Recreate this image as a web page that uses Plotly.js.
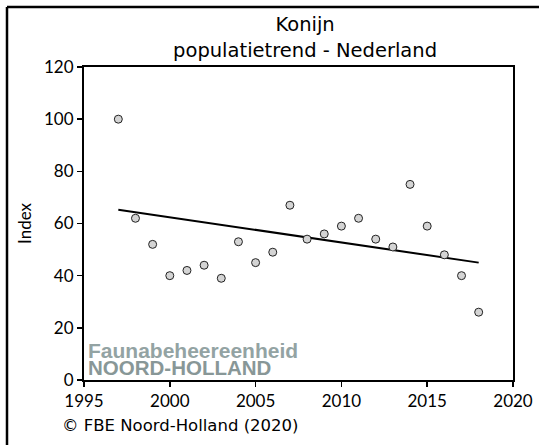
<!DOCTYPE html>
<html>
<head>
<meta charset="utf-8">
<script src="https://cdn.plot.ly/plotly-3.0.1.min.js"></script>
<style>html,body{margin:0;padding:0;background:#fff;}#chart{width:539px;height:445px;}</style>
</head>
<body>
<div id="chart"></div>
<script>
const years = [1997,1998,1999,2000,2001,2002,2003,2004,2005,2006,2007,2008,2009,2010,2011,2012,2013,2014,2015,2016,2017,2018];
const indexValues = [100,62,52,40,42,44,39,53,45,49,67,54,56,59,62,54,51,75,59,48,40,26];
const trendYears = [1997, 2018];
const trendValues = [65.3, 45.0];
const xTicks = [1995,2000,2005,2010,2015,2020];
const yTicks = [0,20,40,60,80,100,120];
const titleLines = ["Konijn", "populatietrend - Nederland"];
const yTitle = "Index";
const logoLine1 = "Faunabeheereenheid";
const logoLine2 = "NOORD-HOLLAND";
const copyright = "© FBE Noord-Holland (2020)";

const FONT = "Lato, 'Open Sans', sans-serif";
const WIDE = "'DejaVu Sans', 'Open Sans', sans-serif";
const LOGO = "'Liberation Sans', Arial, sans-serif";

const traces = [
  {
    x: trendYears, y: trendValues, type: 'scatter', mode: 'lines',
    line: {color: '#000', width: 2}, hoverinfo: 'skip', showlegend: false
  },
  {
    x: years, y: indexValues, type: 'scatter', mode: 'markers',
    marker: {size: 8, color: '#d4d4d4', line: {color: '#222', width: 1}},
    showlegend: false
  }
];

const layout = {
  width: 539, height: 445,
  margin: {l: 84, r: 26, t: 67, b: 65, pad: 0},
  paper_bgcolor: '#fff', plot_bgcolor: '#fff',
  font: {family: FONT, color: '#000', size: 17},
  title: {
    text: titleLines.join('<br>'),
    font: {family: WIDE, size: 19.5, color: '#000'},
    x: 0.566, xanchor: 'center', xref: 'container',
    y: 0.93, yanchor: 'top', yref: 'container'
  },
  xaxis: {
    range: [1995, 2020], tickvals: xTicks, ticktext: xTicks.map(String),
    showgrid: false, zeroline: false,
    showline: true, linecolor: '#000', linewidth: 2, mirror: true,
    ticks: 'outside', ticklen: 5, tickwidth: 1.5, tickcolor: '#000',
    tickfont: {family: FONT, size: 17, color: '#000'}
  },
  yaxis: {
    range: [0, 120], tickvals: yTicks, ticktext: yTicks.map(String),
    showgrid: false, zeroline: false,
    showline: true, linecolor: '#000', linewidth: 2, mirror: true,
    ticks: 'outside', ticklen: 5, tickwidth: 1.5, tickcolor: '#000',
    tickfont: {family: FONT, size: 17, color: '#000'},
    title: {text: yTitle, font: {family: FONT, size: 17, color: '#000'}, standoff: 8}
  },
  annotations: [
    {text: '<b>' + logoLine1 + '</b>', xref: 'paper', yref: 'paper',
     x: 2/429, y: (380-337)/313, xanchor: 'left', yanchor: 'top', showarrow: false,
     font: {family: LOGO, size: 21, color: '#93a3a3'}},
    {text: '<b>' + logoLine2 + '</b>', xref: 'paper', yref: 'paper',
     x: 2/429, y: (380-354)/313, xanchor: 'left', yanchor: 'top', showarrow: false,
     font: {family: LOGO, size: 20.5, color: '#889797'}},
    {text: copyright, xref: 'paper', yref: 'paper',
     x: (60-84)/429, y: (380-425)/313, xanchor: 'left', yanchor: 'middle', showarrow: false,
     font: {family: WIDE, size: 16.5, color: '#000'}}
  ],
  shapes: [
    {type: 'line', xref: 'paper', yref: 'paper', x0: -77/429, x1: 455/429, y0: (380-7)/313, y1: (380-7)/313,
     line: {color: '#000', width: 2.5}},
    {type: 'line', xref: 'paper', yref: 'paper', x0: -77/429, x1: -77/429, y0: (380-7)/313, y1: -70/313,
     line: {color: '#000', width: 2.5}}
  ]
};

Plotly.newPlot('chart', traces, layout, {displayModeBar: false, staticPlot: true});
</script>
</body>
</html>
